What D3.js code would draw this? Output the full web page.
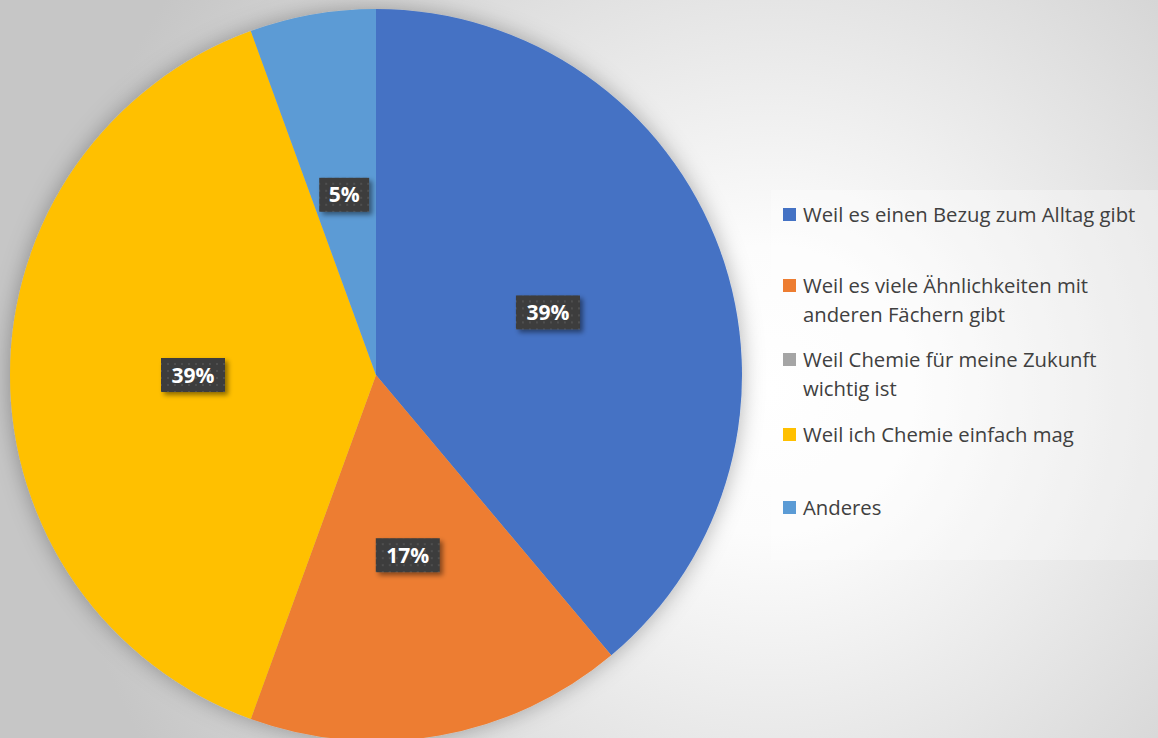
<!DOCTYPE html>
<html>
<head>
<meta charset="utf-8">
<script src="https://cdn.jsdelivr.net/npm/d3@7"></script>
<style>
html,body{margin:0;padding:0;overflow:hidden;}
</style>
</head>
<body>
<svg id="chart" width="1158" height="738"></svg>
<script>
const categories = [
  "Weil es einen Bezug zum Alltag gibt",
  "Weil es viele Ähnlichkeiten mit\nanderen Fächern gibt",
  "Weil Chemie für meine Zukunft\nwichtig ist",
  "Weil ich Chemie einfach mag",
  "Anderes"
];
const values = [7, 3, 0, 7, 1];
const labels = ["39%", "17%", "0%", "39%", "5%"];
const colors = ["#4472C4", "#ED7D31", "#A5A5A5", "#FFC000", "#5B9BD5"];

const W = 1158, H = 738;
const svg = d3.select("#chart");
const defs = svg.append("defs");

const bg = defs.append("radialGradient").attr("id","bg")
  .attr("gradientUnits","userSpaceOnUse")
  .attr("cx",770).attr("cy",390).attr("r",720);
bg.append("stop").attr("offset","0").attr("stop-color","#ffffff");
bg.append("stop").attr("offset","0.2").attr("stop-color","#fcfcfc");
bg.append("stop").attr("offset","1").attr("stop-color","#c6c6c6");

const glow = defs.append("filter").attr("id","glow")
  .attr("x","-20%").attr("y","-20%").attr("width","140%").attr("height","140%");
glow.append("feDropShadow").attr("dx",0).attr("dy",0).attr("stdDeviation",11)
  .attr("flood-color","#000").attr("flood-opacity",0.3);

const shadow = defs.append("filter").attr("id","lblshadow")
  .attr("x","-30%").attr("y","-30%").attr("width","170%").attr("height","170%");
shadow.append("feDropShadow").attr("dx",3).attr("dy",3).attr("stdDeviation",2.5)
  .attr("flood-color","#000").attr("flood-opacity",0.45);

const pat = defs.append("pattern").attr("id","dots")
  .attr("patternUnits","userSpaceOnUse").attr("width",7).attr("height",7);
pat.append("rect").attr("width",7).attr("height",7).attr("fill","#3d3d3d");
pat.append("rect").attr("x",2).attr("y",2).attr("width",2).attr("height",2).attr("fill","#4f4f4f");

svg.append("rect").attr("width",W).attr("height",H).attr("fill","url(#bg)");

// legend background
svg.append("rect").attr("x",771).attr("y",190).attr("width",W-771).attr("height",370)
  .attr("fill","#ffffff").attr("fill-opacity",0.3);

const cx = 376, cy = 375, r = 366;
const pie = d3.pie().sort(null).value(d => d)(values);
const arc = d3.arc().innerRadius(0).outerRadius(r);

const g = svg.append("g").attr("transform",`translate(${cx},${cy})`);
const slices = g.append("g").attr("filter","url(#glow)");
slices.selectAll("path").data(pie).join("path")
  .attr("d", arc)
  .attr("fill", (d,i) => colors[i]);

const lblG = g.append("g");
pie.forEach((d,i) => {
  if (d.value === 0) return;
  const [x,y] = arc.centroid(d);
  const t = lblG.append("g").attr("transform",`translate(${x},${y})`);
  const txt = labels[i];
  const w = txt.length === 2 ? 50 : 64, h = 34;
  t.append("rect").attr("x",-w/2).attr("y",-h/2).attr("width",w).attr("height",h)
    .attr("fill","url(#dots)").attr("filter","url(#lblshadow)");
  t.append("text").attr("text-anchor","middle").attr("dy","0.36em")
    .attr("font-family","'Open Sans', sans-serif").attr("font-weight","bold")
    .attr("font-size",21).attr("fill","#ffffff").text(txt);
});

// legend
const lg = svg.append("g");
const rowY = [208, 279, 353, 428, 501];
categories.forEach((c,i) => {
  const row = lg.append("g").attr("transform",`translate(783,${rowY[i]})`);
  row.append("rect").attr("width",13).attr("height",13).attr("fill",colors[i]);
  const text = row.append("text").attr("x",20).attr("y",13.5)
    .attr("font-family","'Open Sans', sans-serif").attr("font-size",20.3)
    .attr("fill","#404040");
  c.split("\n").forEach((ln,j) => {
    text.append("tspan").attr("x",20).attr("dy", j ? 29 : 0).text(ln);
  });
});
</script>
</body>
</html>
